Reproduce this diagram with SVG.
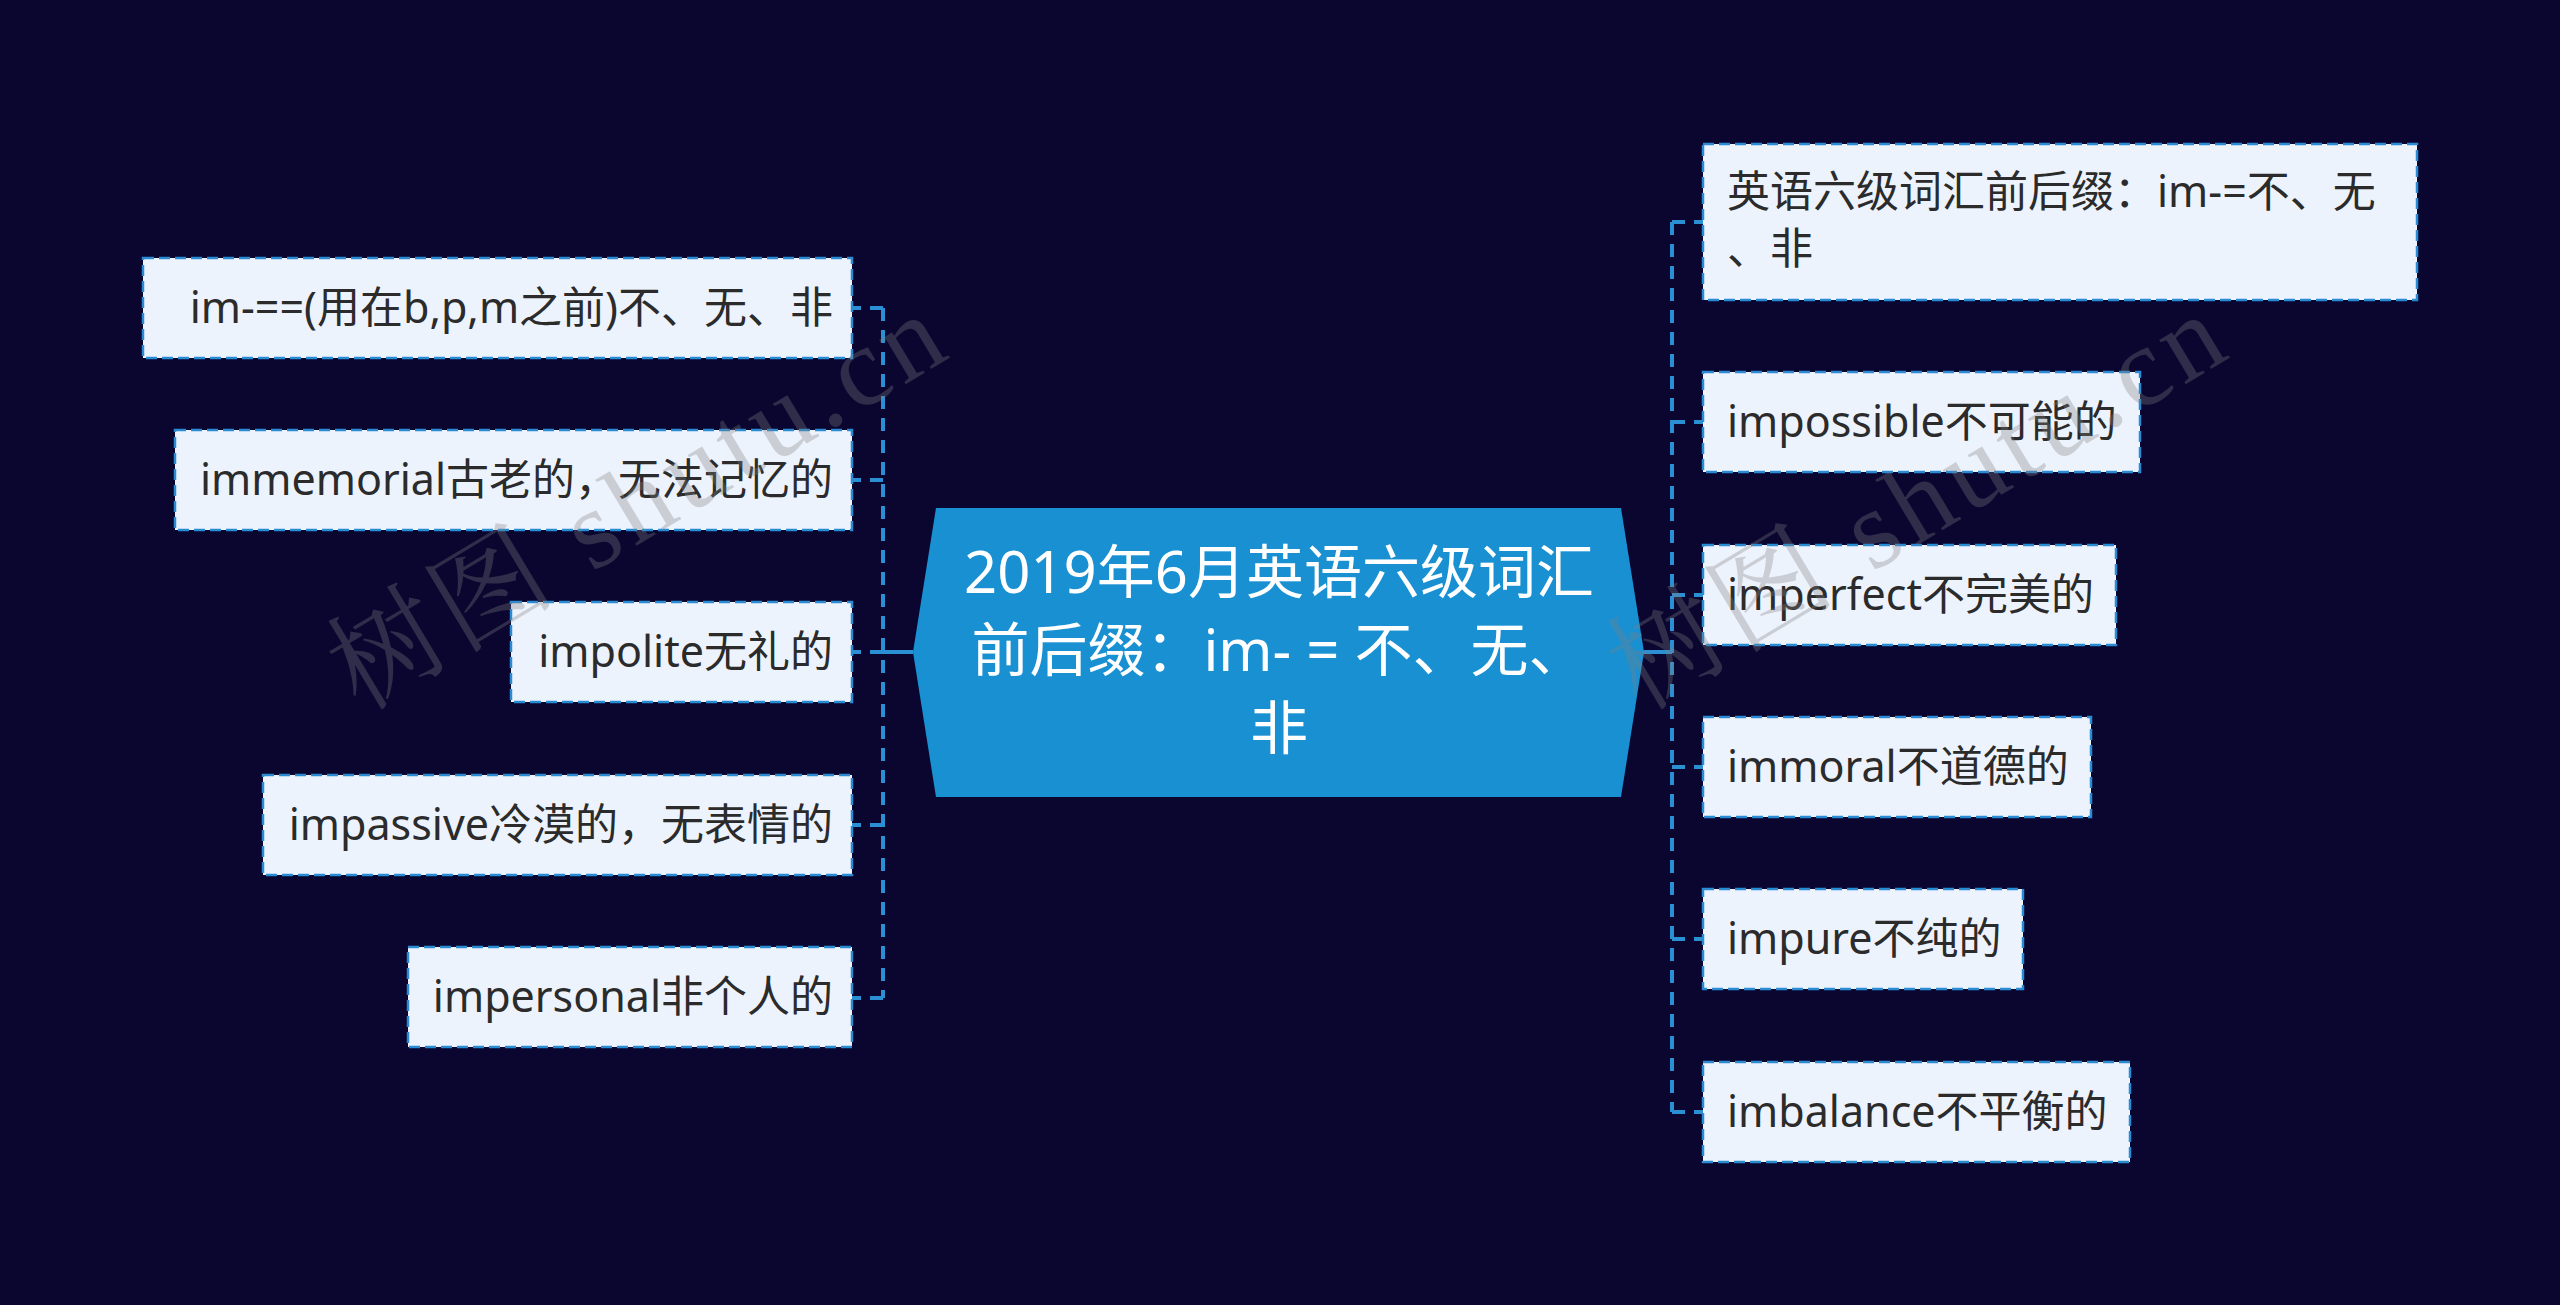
<svg xmlns="http://www.w3.org/2000/svg" width="2560" height="1305" viewBox="0 0 2560 1305">
<style>
.leaf rect{fill:#edf3fd;stroke:#2a8bd2;stroke-width:2.5;stroke-dasharray:11 5}
.leaf text{font-family:"Noto Sans","Noto Sans CJK SC",sans-serif;font-size:43px;fill:#2b2b2b}
.l text{text-anchor:end}
.r text{text-anchor:start}
.ctr text{font-family:"Noto Sans","Noto Sans CJK SC",sans-serif;font-size:58px;fill:#ffffff;text-anchor:middle}
.dash{stroke:#2b8fd3;stroke-width:4;fill:none;stroke-dasharray:13 9}
.solid{stroke:#2b8fd3;stroke-width:4;fill:none}
.wm{font-family:"Liberation Serif","Noto Serif CJK SC","Noto Sans CJK SC",serif;font-size:112px;fill:#808080;fill-opacity:0.32}
</style>
<rect width="2560" height="1305" fill="#0a0630"/>
<g id="connectors">
<line class="solid" x1="913" y1="652" x2="883" y2="652"/>
<line class="dash" x1="883" y1="308" x2="883" y2="998"/>
<line class="dash" x1="883" y1="308" x2="852" y2="308"/>
<line class="dash" x1="883" y1="480" x2="852" y2="480"/>
<line class="dash" x1="883" y1="652" x2="852" y2="652"/>
<line class="dash" x1="883" y1="825" x2="852" y2="825"/>
<line class="dash" x1="883" y1="998" x2="852" y2="998"/>
<line class="solid" x1="1643" y1="652" x2="1672" y2="652"/>
<line class="dash" x1="1672" y1="222" x2="1672" y2="1112"/>
<line class="dash" x1="1672" y1="222" x2="1703" y2="222"/>
<line class="dash" x1="1672" y1="422" x2="1703" y2="422"/>
<line class="dash" x1="1672" y1="595" x2="1703" y2="595"/>
<line class="dash" x1="1672" y1="767" x2="1703" y2="767"/>
<line class="dash" x1="1672" y1="939" x2="1703" y2="939"/>
<line class="dash" x1="1672" y1="1112" x2="1703" y2="1112"/>
</g>
<g id="center" class="ctr">
<polygon points="936,508 1621,508 1644,652 1621,797 936,797 913,652" fill="#1890d2"/>
<text x="1279" y="593">2019年6月英语六级词汇</text>
<text x="1279" y="671">前后缀：im- = 不、无、</text>
<text x="1279" y="749">非</text>
</g>
<g id="left1" class="leaf l"><rect x="143" y="258" width="709" height="100"/><text x="833" y="323">im-==(用在b,p,m之前)不、无、非</text></g>
<g id="left2" class="leaf l"><rect x="175" y="430" width="677" height="100"/><text x="833" y="495">immemorial古老的，无法记忆的</text></g>
<g id="left3" class="leaf l"><rect x="511" y="602" width="341" height="100"/><text x="833" y="667">impolite无礼的</text></g>
<g id="left4" class="leaf l"><rect x="263" y="775" width="589" height="100"/><text x="833" y="840">impassive冷漠的，无表情的</text></g>
<g id="left5" class="leaf l"><rect x="408" y="947" width="444" height="100"/><text x="833" y="1012">impersonal非个人的</text></g>
<g id="right1" class="leaf r"><rect x="1703" y="144" width="714" height="156"/><text x="1727" y="207">英语六级词汇前后缀：im-=不、无</text><text x="1727" y="264">、非</text></g>
<g id="right2" class="leaf r"><rect x="1703" y="372" width="437" height="100"/><text x="1727" y="437">impossible不可能的</text></g>
<g id="right3" class="leaf r"><rect x="1703" y="545" width="413" height="100"/><text x="1727" y="610">imperfect不完美的</text></g>
<g id="right4" class="leaf r"><rect x="1703" y="717" width="388" height="100"/><text x="1727" y="782">immoral不道德的</text></g>
<g id="right5" class="leaf r"><rect x="1703" y="889" width="320" height="100"/><text x="1727" y="954">impure不纯的</text></g>
<g id="right6" class="leaf r"><rect x="1703" y="1062" width="427" height="100"/><text x="1727" y="1127">imbalance不平衡的</text></g>
<g id="watermark">
<text class="wm" x="360" y="712" transform="rotate(-31 360 712)" textLength="690" lengthAdjust="spacing">树图 shutu.cn</text>
<text class="wm" x="1640" y="712" transform="rotate(-31 1640 712)" textLength="690" lengthAdjust="spacing">树图 shutu.cn</text>
</g>
</svg>
